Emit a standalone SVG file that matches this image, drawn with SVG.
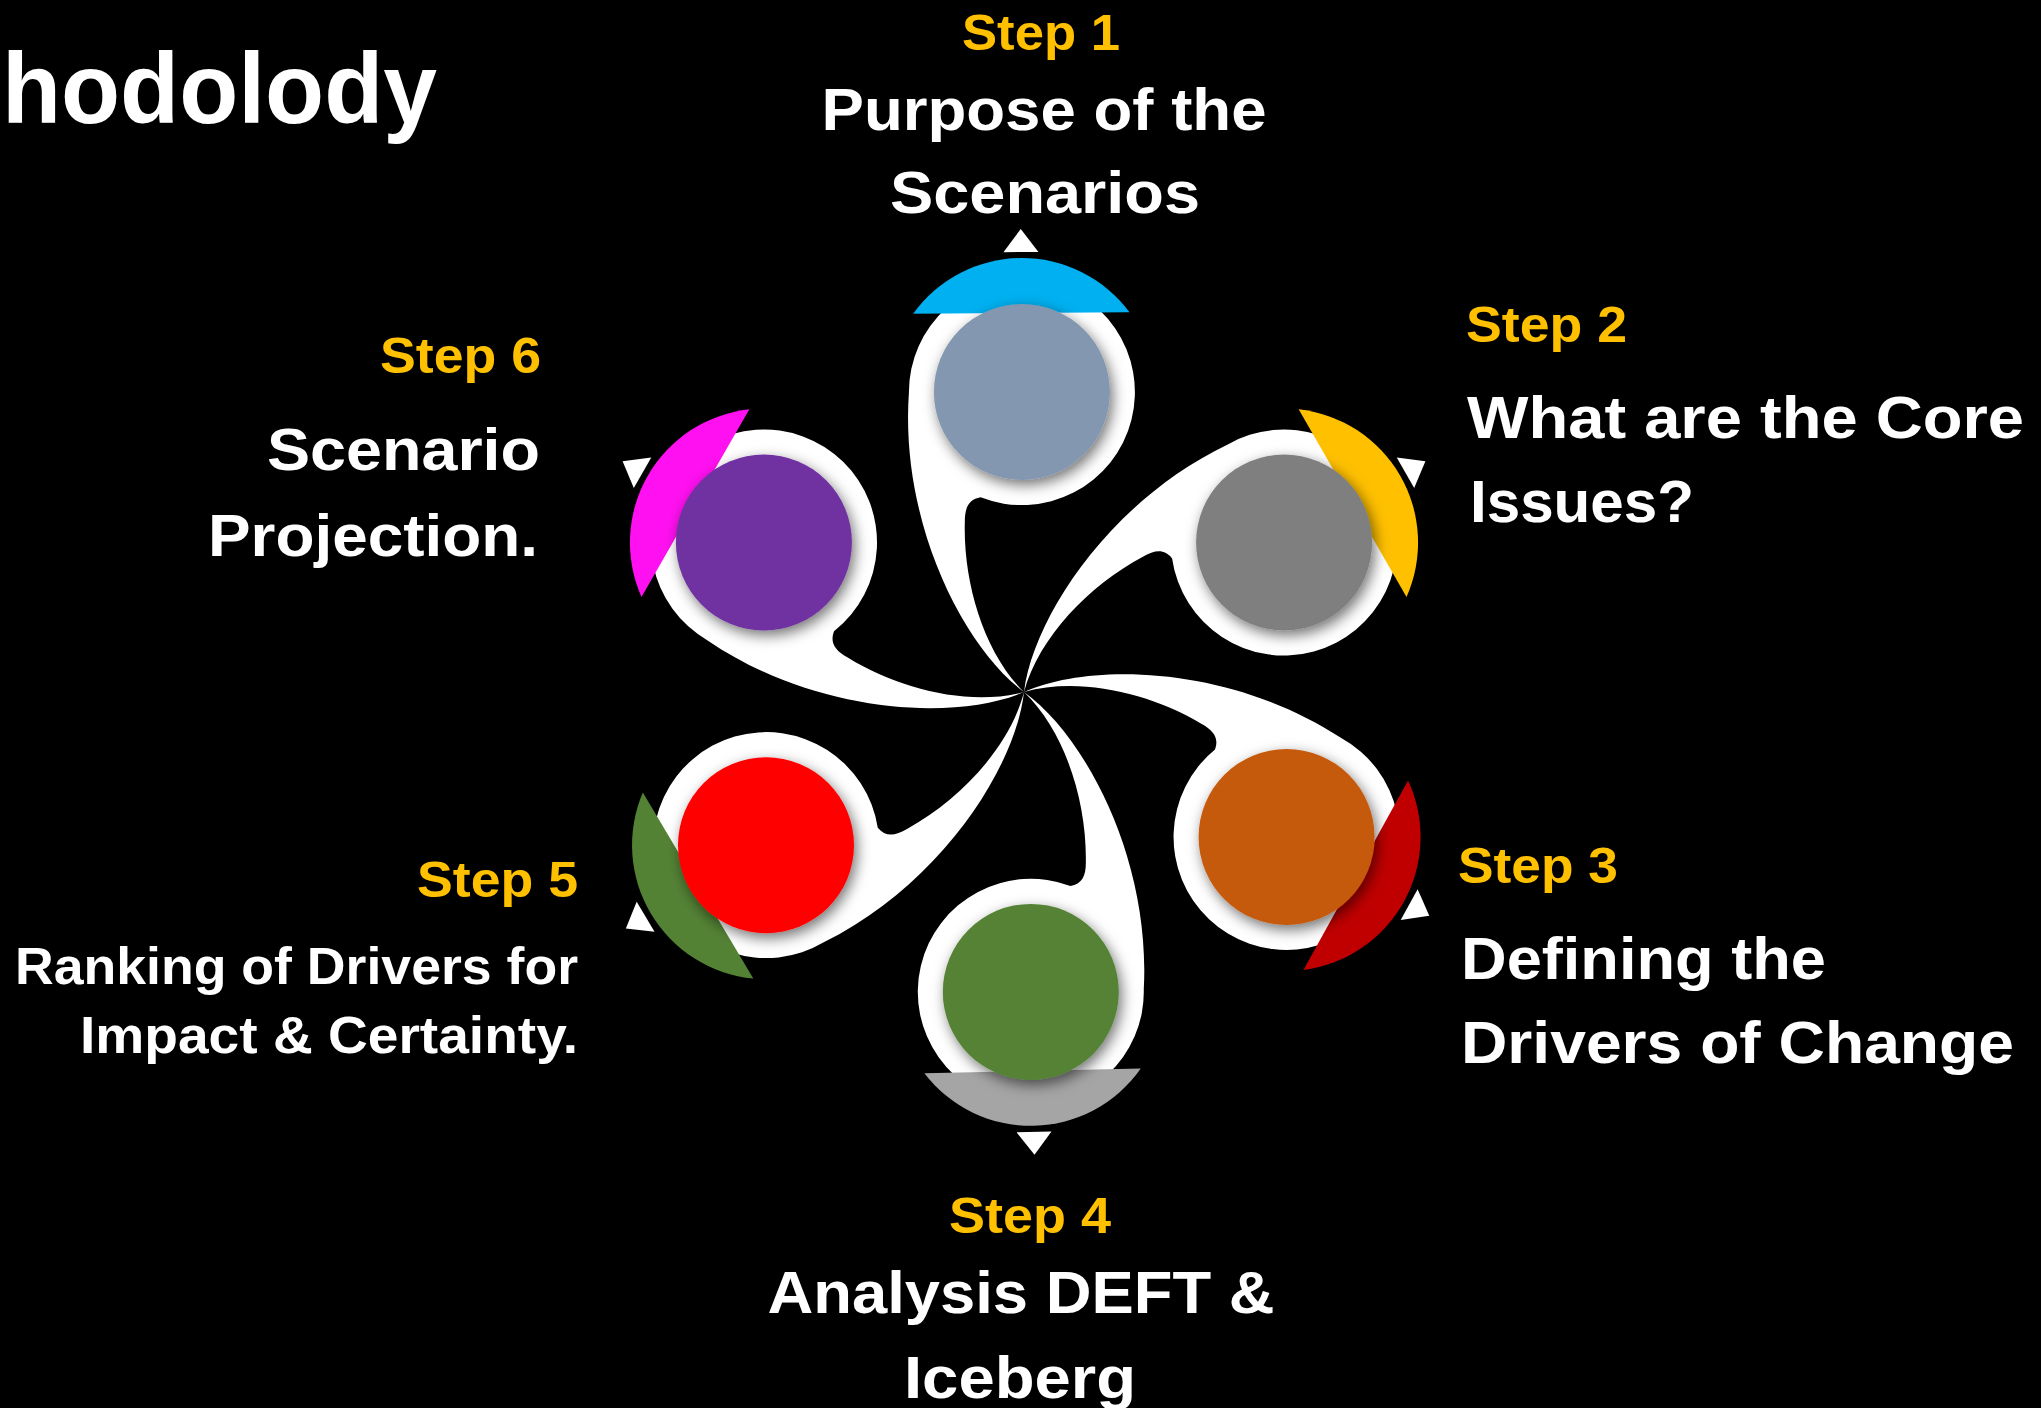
<svg xmlns="http://www.w3.org/2000/svg" xmlns:xlink="http://www.w3.org/1999/xlink" width="2041" height="1408" viewBox="0 0 2041 1408">
<defs>
<style>
.blade{fill:#ffffff}
.tri{fill:#ffffff}
.dot{filter:url(#sh)}
.step{font-family:"Liberation Sans",Arial,sans-serif;font-weight:bold;font-size:50px;fill:#FFC000}
.lbl{font-family:"Liberation Sans",Arial,sans-serif;font-weight:bold;font-size:60px;fill:#ffffff}
.sm{font-size:52px}
.title{font-family:"Liberation Sans",Arial,sans-serif;font-weight:bold;font-size:100px;fill:#ffffff}
</style>
<filter id="sh" x="-30%" y="-30%" width="160%" height="160%">
<feDropShadow dx="3" dy="5" stdDeviation="7" flood-color="#000" flood-opacity="0.55"/>
</filter>
<path id="blade" d="M 0 0 C -60 -45 -123 -170 -113 -300 A 113 113 0 1 1 -42 -195 C -54 -193 -58 -185 -58 -170 C -60 -110 -40 -40 0 0 Z"/>
<path id="cap" d="M -108.2 -79 A 134 134 0 0 1 108.2 -79 Z"/>
<path id="tri" d="M -17.5 -140 L 17.5 -140 L 0 -163 Z"/>
</defs>
<rect x="0" y="0" width="2041" height="1408" fill="#000000"/>
<text class="title" x="2" y="123" textLength="435" lengthAdjust="spacingAndGlyphs">hodolody</text>
<g id="connectors" class="blade">
<use xlink:href="#blade" href="#blade" transform="translate(1024,692) rotate(-0.4)"/>
<use xlink:href="#blade" href="#blade" transform="translate(1024,692) rotate(60.1)"/>
<use xlink:href="#blade" href="#blade" transform="translate(1024,692) rotate(118.9)"/>
<use xlink:href="#blade" href="#blade" transform="translate(1024,692) rotate(178.7)"/>
<use xlink:href="#blade" href="#blade" transform="translate(1024,692) rotate(239.3)"/>
<use xlink:href="#blade" href="#blade" transform="translate(1024,692) rotate(299.9)"/>
</g>
<g id="step1">
<g transform="translate(1021.9,392) rotate(-0.4)">
<use xlink:href="#cap" href="#cap" fill="#00B0F0"/>
<use xlink:href="#tri" href="#tri" class="tri"/>
</g>
<circle class="dot" cx="1021.9" cy="392" r="88" fill="#8497B0"/>
<text class="step" x="1041" y="50" text-anchor="middle" textLength="158" lengthAdjust="spacingAndGlyphs">Step 1</text>
<text class="lbl" x="1044" y="130" text-anchor="middle" textLength="445" lengthAdjust="spacingAndGlyphs">Purpose of the</text>
<text class="lbl" x="1045" y="213" text-anchor="middle" textLength="310" lengthAdjust="spacingAndGlyphs">Scenarios</text>
</g>
<g id="step2">
<g transform="translate(1284.1,542.5) rotate(60.1)">
<use xlink:href="#cap" href="#cap" fill="#FFC000"/>
<use xlink:href="#tri" href="#tri" class="tri"/>
</g>
<circle class="dot" cx="1284.1" cy="542.5" r="88" fill="#7F7F7F"/>
<text class="step" x="1466" y="342" textLength="161" lengthAdjust="spacingAndGlyphs">Step 2</text>
<text class="lbl" x="1467" y="438" textLength="557" lengthAdjust="spacingAndGlyphs">What are the Core</text>
<text class="lbl" x="1470" y="522" textLength="224" lengthAdjust="spacingAndGlyphs">Issues?</text>
</g>
<g id="step3">
<g transform="translate(1286.6,837) rotate(118.9)">
<use xlink:href="#cap" href="#cap" fill="#C00000"/>
<use xlink:href="#tri" href="#tri" class="tri"/>
</g>
<circle class="dot" cx="1286.6" cy="837" r="88" fill="#C55A11"/>
<text class="step" x="1458" y="883" textLength="160" lengthAdjust="spacingAndGlyphs">Step 3</text>
<text class="lbl" x="1461" y="979" textLength="365" lengthAdjust="spacingAndGlyphs">Defining the</text>
<text class="lbl" x="1461" y="1063" textLength="553" lengthAdjust="spacingAndGlyphs">Drivers of Change</text>
</g>
<g id="step4">
<g transform="translate(1030.8,991.9) rotate(178.7)">
<use xlink:href="#cap" href="#cap" fill="#A5A5A5"/>
<use xlink:href="#tri" href="#tri" class="tri"/>
</g>
<circle class="dot" cx="1030.8" cy="991.9" r="88" fill="#548235"/>
<text class="step" x="1030" y="1233" text-anchor="middle" textLength="162" lengthAdjust="spacingAndGlyphs">Step 4</text>
<text class="lbl" x="1021" y="1313" text-anchor="middle" textLength="507" lengthAdjust="spacingAndGlyphs">Analysis DEFT &amp;</text>
<text class="lbl" x="1020" y="1398" text-anchor="middle" textLength="232" lengthAdjust="spacingAndGlyphs">Iceberg</text>
</g>
<g id="step5">
<g transform="translate(766,845.2) rotate(239.3)">
<use xlink:href="#cap" href="#cap" fill="#548235"/>
<use xlink:href="#tri" href="#tri" class="tri"/>
</g>
<circle class="dot" cx="766" cy="845.2" r="88" fill="#FF0000"/>
<text class="step" x="578" y="897" text-anchor="end" textLength="161" lengthAdjust="spacingAndGlyphs">Step 5</text>
<text class="lbl sm" x="578" y="984" text-anchor="end" textLength="563" lengthAdjust="spacingAndGlyphs">Ranking of Drivers for</text>
<text class="lbl sm" x="578" y="1053" text-anchor="end" textLength="498" lengthAdjust="spacingAndGlyphs">Impact &amp; Certainty.</text>
</g>
<g id="step6">
<g transform="translate(763.9,542.5) rotate(299.9)">
<use xlink:href="#cap" href="#cap" fill="#FF10F0"/>
<use xlink:href="#tri" href="#tri" class="tri"/>
</g>
<circle class="dot" cx="763.9" cy="542.5" r="88" fill="#7030A0"/>
<text class="step" x="541" y="373" text-anchor="end" textLength="161" lengthAdjust="spacingAndGlyphs">Step 6</text>
<text class="lbl" x="540" y="470" text-anchor="end" textLength="273" lengthAdjust="spacingAndGlyphs">Scenario</text>
<text class="lbl" x="538" y="556" text-anchor="end" textLength="330" lengthAdjust="spacingAndGlyphs">Projection.</text>
</g>
</svg>
